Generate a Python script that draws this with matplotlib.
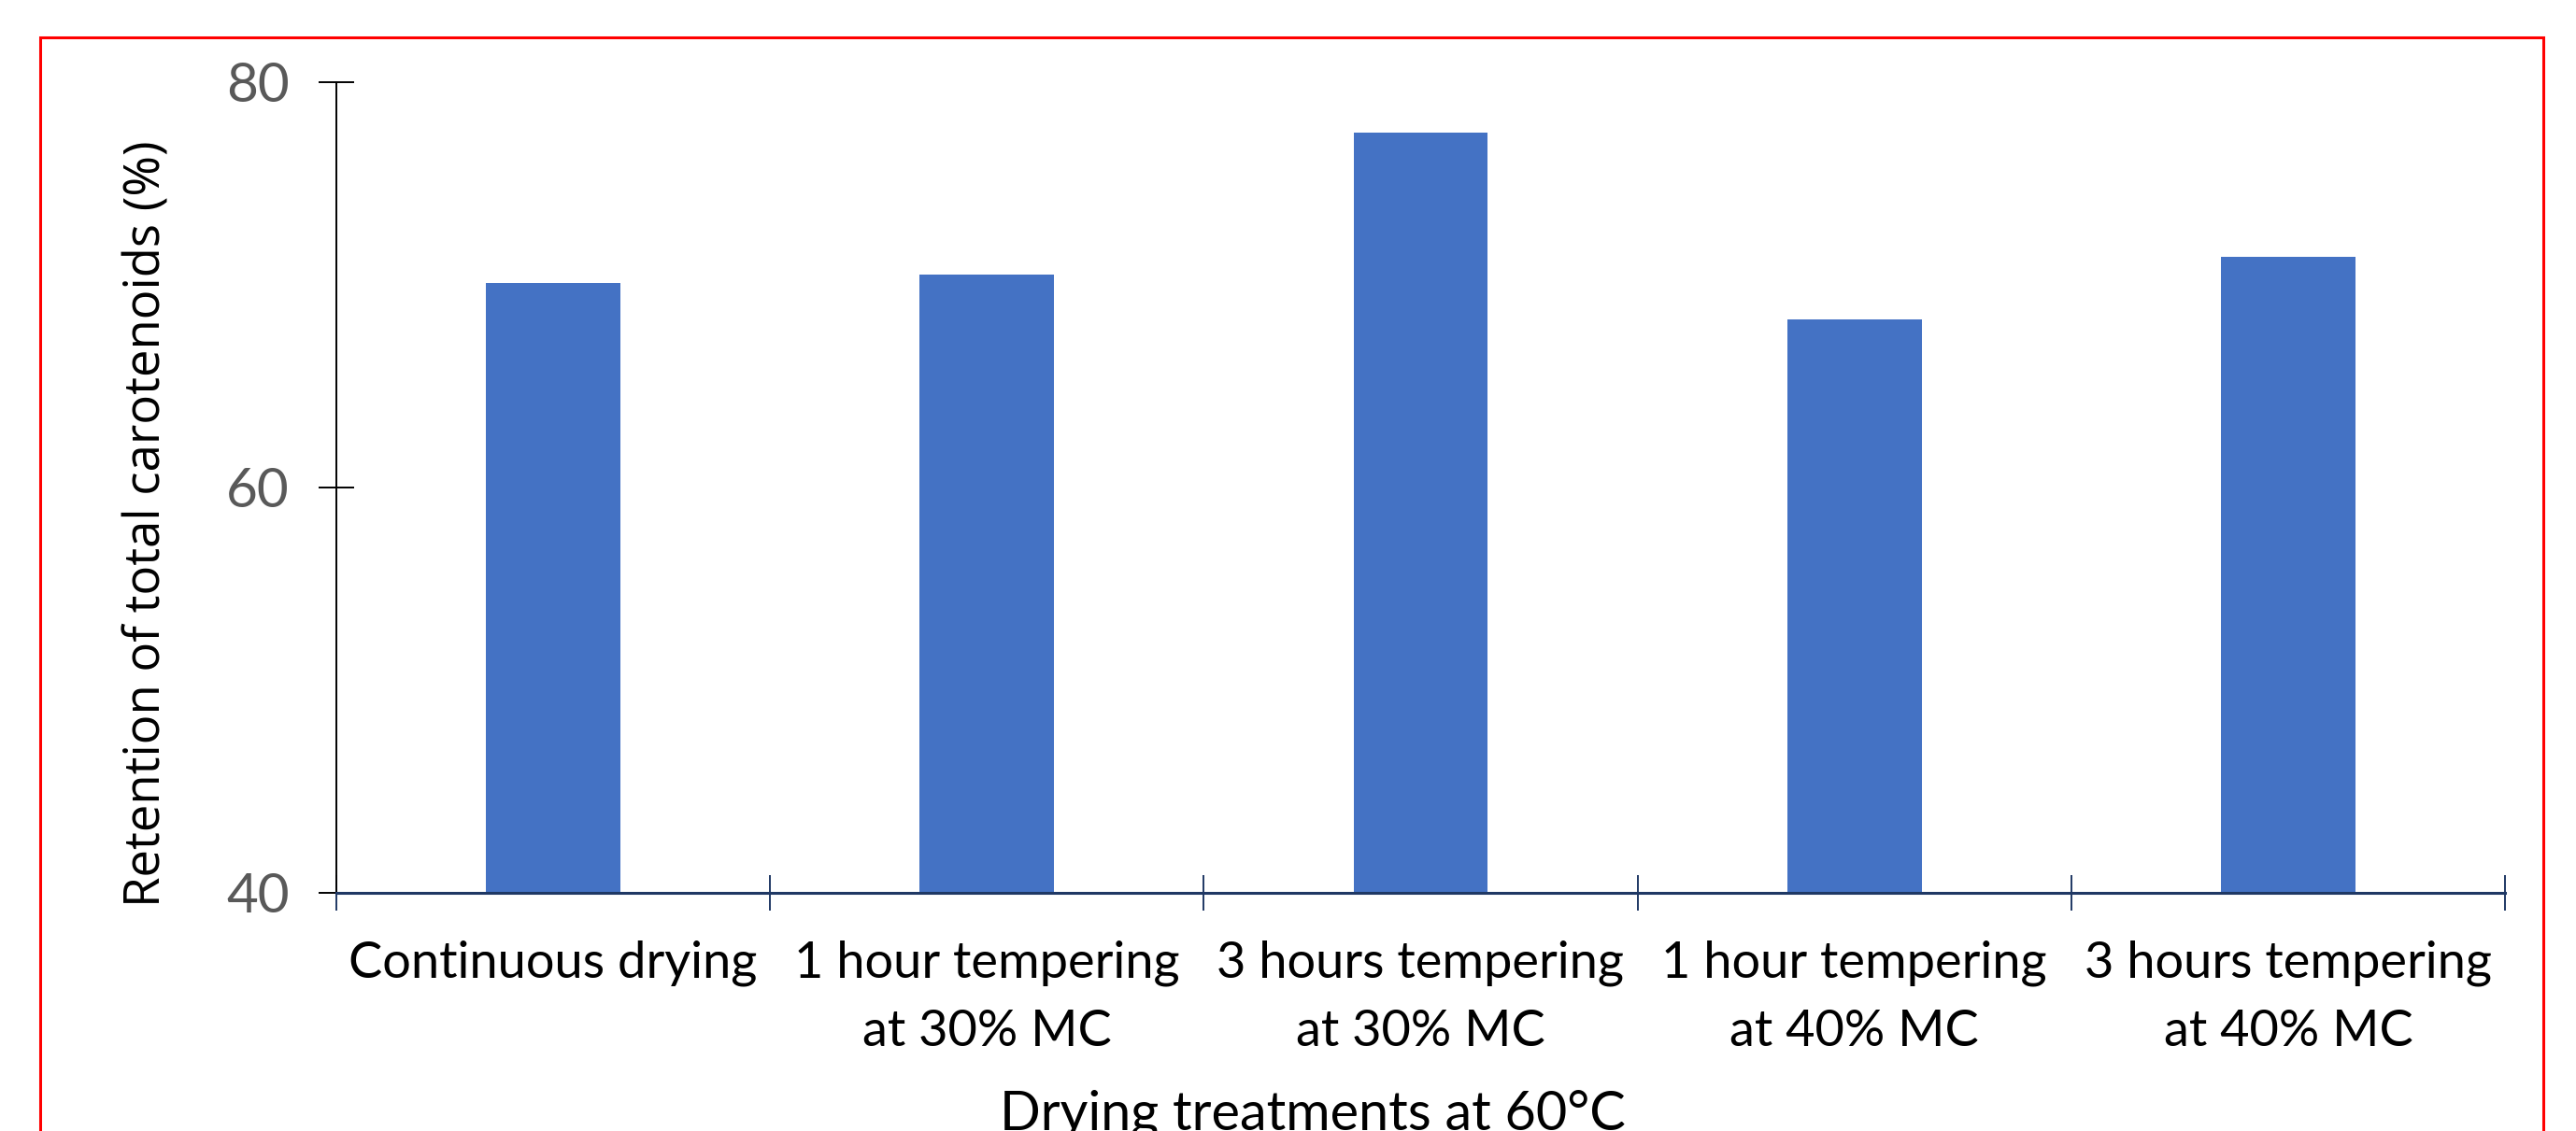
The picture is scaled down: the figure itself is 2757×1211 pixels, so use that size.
import matplotlib
matplotlib.use("Agg")
import matplotlib.pyplot as plt
from matplotlib.patches import Rectangle

# Treatments and retention values
categories = [
    "Continuous drying",
    "1 hour tempering\nat 30% MC",
    "3 hours tempering\nat 30% MC",
    "1 hour tempering\nat 40% MC",
    "3 hours tempering\nat 40% MC",
]
retention = [70.1, 70.5, 77.5, 68.3, 71.4]
y_ticks = [40, 60, 80]

W, H, DPI = 2757, 1211, 100
fig = plt.figure(figsize=(W / DPI, H / DPI), dpi=DPI)
fig.patch.set_facecolor("white")

ax = fig.add_axes([360 / W, 1 - 956 / H, (2681 - 360) / W, (956 - 88) / H])
ax.set_facecolor("white")

x = list(range(len(categories)))
ax.bar(x, retention, width=0.31, color="#4472C4", zorder=2)

ax.set_xlim(-0.5, len(categories) - 0.5)
ax.set_ylim(40, 80)

for side in ("top", "right"):
    ax.spines[side].set_visible(False)
ax.spines["left"].set_color("#000000")
ax.spines["left"].set_linewidth(1.4)
ax.spines["bottom"].set_color("#1F3864")
ax.spines["bottom"].set_linewidth(2.2)
ax.spines["bottom"].set_zorder(3)

# y axis
ax.set_yticks(y_ticks)
ax.set_yticklabels([str(v) for v in y_ticks], fontfamily="Lato", fontsize=42,
                   color="#595959")
ax.tick_params(axis="y", direction="inout", length=28, width=1.4,
               color="#000000", pad=22)

# x axis: labels at category centres, tick marks at category boundaries
ax.set_xticks(x)
ax.set_xticklabels(categories, fontfamily="Lato", fontsize=39, color="#000000",
                   linespacing=1.6)
ax.tick_params(axis="x", which="major", length=0, pad=36)
ax.set_xticks([i - 0.5 for i in range(len(categories) + 1)], minor=True)
ax.tick_params(axis="x", which="minor", direction="inout", length=28,
               width=1.4, color="#1F3864")

# axis titles
fig.text(158 / W, 1 - 561 / H, "Retention of total carotenoids (%)",
         rotation=90, ha="center", va="center", fontfamily="Open Sans",
         fontsize=38, color="#000000")
fig.text(1405 / W, 1 - 1166 / H, "Drying treatments at 60°C",
         ha="center", va="top", fontfamily="Lato", fontsize=41.5,
         color="#000000")

# red frame around the chart area
fig.patches.append(Rectangle((43 / W, -0.2), (2722 - 43) / W, 1.2 - 40 / H,
                             transform=fig.transFigure, fill=False,
                             edgecolor="#FF0000", linewidth=2.2, zorder=5))

fig.savefig("out.png", dpi=DPI)
